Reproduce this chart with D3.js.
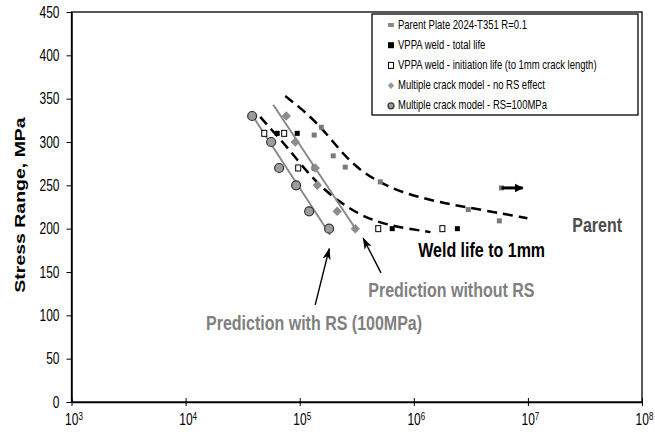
<!DOCTYPE html>
<html>
<head>
<meta charset="utf-8">
<script src="https://cdn.jsdelivr.net/npm/d3@7"></script>
<style>
body { margin: 0; background: #fff; }
svg { display: block; }
text { font-family: Arial, "Liberation Sans", sans-serif; }
</style>
</head>
<body>
<svg width="655" height="434"></svg>
<script>
// Data (cycles N, stress range MPa)
var parentN = [134000, 154600, 196600, 250600, 508000, 3.0e6, 5.62e6];
var parentS = [308, 317, 284, 271, 254, 222, 209];
var runoutN = [5.86e6, 9.0e6];
var runoutS = [247, 247];

var totalN = [63500, 95100, 134000, 647000, 2.41e6];
var totalS = [310, 310, 270, 200, 200];

var initN = [48900, 73100, 97000, 488000, 1.78e6];
var initS = [310, 310, 270, 200, 200];

var noRsN = [76200, 91400, 136800, 142600, 213000, 307000];
var noRsS = [330, 300, 270, 250, 220, 200];
var noRsLineN = [58600, 319000];
var noRsLineS = [343, 197];

var rsN = [38300, 56200, 66000, 93000, 121000, 181000];
var rsS = [330, 300, 270, 250, 220, 200];
var rsLineN = [38300, 185000];
var rsLineS = [331, 193];

var parentCurveN = [74700, 107000, 157000, 226000, 313000, 459000, 762000, 1.71e6, 3.83e6, 9.9e6];
var parentCurveS = [353, 337, 316, 290, 271, 256, 242, 230, 222, 212];

var weldCurveN = [45100, 58600, 77700, 107000, 154000, 218000, 326000, 459000, 647000, 1.40e6];
var weldCurveS = [329, 312, 294, 271, 248, 232, 217, 209, 203, 196];

var yTicks = [0, 50, 100, 150, 200, 250, 300, 350, 400, 450];
var xTicks = [1e3, 1e4, 1e5, 1e6, 1e7, 1e8];

var legendLabels = [
    "Parent Plate 2024-T351 R=0.1",
    "VPPA weld - total life",
    "VPPA weld - initiation life (to 1mm crack length)",
    "Multiple crack model - no RS effect",
    "Multiple crack model - RS=100MPa"
];

var svg = d3.select("svg");
var K = 1.3; // glyphs in the picture are drawn taller than wide

var x = d3.scaleLog().domain([1e3, 1e8]).range([71.5, 642]);
var y = d3.scaleLinear().domain([0, 450]).range([402, 12]);

function pts(ns, ss) {
    return ns.map(function (n, i) { return [n, ss[i]]; });
}

// stretch text vertically around its own anchor
function tall(sel, k) {
    sel.each(function () {
        var t = d3.select(this);
        var tx = +t.attr("x") || 0, ty = +t.attr("y") || 0;
        t.attr("x", 0).attr("y", 0)
         .attr("transform", "translate(" + tx + "," + ty + ") scale(1," + k + ")");
    });
}

// arrow heads
var defs = svg.append("defs");
defs.append("marker").attr("id", "head").attr("markerUnits", "userSpaceOnUse")
    .attr("viewBox", "0 0 12 8").attr("refX", 11).attr("refY", 4)
    .attr("markerWidth", 12).attr("markerHeight", 8).attr("orient", "auto")
    .append("path").attr("d", "M0,0 L12,4 L0,8 L3,4 Z").attr("fill", "#000");
defs.append("marker").attr("id", "head2").attr("markerUnits", "userSpaceOnUse")
    .attr("viewBox", "0 0 10 10").attr("refX", 9).attr("refY", 5)
    .attr("markerWidth", 9).attr("markerHeight", 9).attr("orient", "auto")
    .append("path").attr("d", "M0,0 L10,5 L0,10 Z").attr("fill", "#000");

// plot frame
svg.append("rect").attr("x", 71.5).attr("y", 12).attr("width", 642 - 71.5).attr("height", 390)
    .attr("fill", "none").attr("stroke", "#000").attr("stroke-width", 1.3);

// Y axis
var yAxis = svg.append("g").attr("transform", "translate(71.5,0)")
    .call(d3.axisLeft(y).tickValues(yTicks).tickSize(5).tickSizeOuter(0).tickPadding(7));
yAxis.select(".domain").attr("stroke-width", 1.5);
yAxis.selectAll("text").attr("font-size", 12).attr("fill", "#000");
tall(yAxis.selectAll("text"), K);

// X axis
var xAxis = svg.append("g").attr("transform", "translate(0,402)")
    .call(d3.axisBottom(x).tickValues(xTicks).tickSize(4).tickSizeOuter(0).tickFormat(""));
xAxis.select(".domain").attr("stroke-width", 1.5);
xAxis.selectAll(".tick line").attr("y1", -4).attr("y2", 4);
xAxis.selectAll(".tick text").remove();
xAxis.selectAll(".tick").append("text")
    .attr("x", 2).attr("y", 23).attr("text-anchor", "middle").attr("font-size", 12).attr("fill", "#000")
    .each(function (d) {
        var t = d3.select(this);
        t.append("tspan").text("10");
        t.append("tspan").attr("dy", -4).attr("font-size", 8).text(Math.round(Math.log10(d)));
    });
tall(xAxis.selectAll(".tick text"), K);

// Y title
svg.append("text").attr("font-size", 15).attr("font-weight", "bold").attr("text-anchor", "middle")
    .attr("transform", "translate(25,205) scale(1," + K + ") rotate(-90)")
    .text("Stress Range, MPa");

var line = d3.line().x(function (d) { return x(d[0]); }).y(function (d) { return y(d[1]); });
var smooth = d3.line().x(function (d) { return x(d[0]); }).y(function (d) { return y(d[1]); })
    .curve(d3.curveBasis);

// dashed fits
svg.append("path").datum(pts(parentCurveN, parentCurveS)).attr("d", smooth)
    .attr("fill", "none").attr("stroke", "#000").attr("stroke-width", 2.5).attr("stroke-dasharray", "10,6");
svg.append("path").datum(pts(weldCurveN, weldCurveS)).attr("d", smooth)
    .attr("fill", "none").attr("stroke", "#000").attr("stroke-width", 2.5).attr("stroke-dasharray", "10,6");

// prediction lines
svg.append("path").datum(pts(noRsLineN, noRsLineS)).attr("d", line)
    .attr("fill", "none").attr("stroke", "#8a8a8a").attr("stroke-width", 2);
svg.append("path").datum(pts(rsLineN, rsLineS)).attr("d", line)
    .attr("fill", "none").attr("stroke", "#8a8a8a").attr("stroke-width", 2);

// parent plate points
svg.append("g").selectAll("rect").data(pts(parentN, parentS)).join("rect")
    .attr("x", function (d) { return x(d[0]) - 2.5; }).attr("y", function (d) { return y(d[1]) - 2.5; })
    .attr("width", 5).attr("height", 5).attr("fill", "#7a7a7a");

// runout arrow
var ro = pts(runoutN, runoutS);
svg.append("rect").attr("x", x(ro[0][0]) - 2.5).attr("y", y(ro[0][1]) - 2.5)
    .attr("width", 5).attr("height", 5).attr("fill", "#7a7a7a");
svg.append("path").datum(ro).attr("d", line).attr("stroke", "#000").attr("stroke-width", 3)
    .attr("marker-end", "url(#head2)");

// VPPA total life
svg.append("g").selectAll("rect").data(pts(totalN, totalS)).join("rect")
    .attr("x", function (d) { return x(d[0]) - 2.5; }).attr("y", function (d) { return y(d[1]) - 2.5; })
    .attr("width", 5).attr("height", 5).attr("fill", "#000");

// VPPA initiation life
svg.append("g").selectAll("rect").data(pts(initN, initS)).join("rect")
    .attr("x", function (d) { return x(d[0]) - 2.5; }).attr("y", function (d) { return y(d[1]) - 3; })
    .attr("width", 5).attr("height", 6).attr("fill", "#fff").attr("stroke", "#000").attr("stroke-width", 1);

// no RS diamonds (square turned 45 degrees)
var diamond = d3.symbol().type(d3.symbolSquare).size(45);
svg.append("g").selectAll("path").data(pts(noRsN, noRsS)).join("path")
    .attr("transform", function (d) { return "translate(" + x(d[0]) + "," + y(d[1]) + ") rotate(45)"; })
    .attr("d", diamond).attr("fill", "#8c8c8c");

// RS=100MPa circles
svg.append("g").selectAll("circle").data(pts(rsN, rsS)).join("circle")
    .attr("cx", function (d) { return x(d[0]); }).attr("cy", function (d) { return y(d[1]); })
    .attr("r", 4.5).attr("fill", "#9c9c9c").attr("stroke", "#333").attr("stroke-width", 1.2);

// annotation arrows
var arrowRs = [[136700, 112], [181600, 177]];
var arrowNoRs = [[516000, 149], [360000, 189]];
[arrowRs, arrowNoRs].forEach(function (a) {
    svg.append("path").datum(a).attr("d", line).attr("stroke", "#000").attr("stroke-width", 1.4)
        .attr("marker-end", "url(#head)");
});

// annotation texts
var notes = [
    { n: 2.45e7, s: 196.5, text: "Parent", color: "#4d4d4d" },
    { n: 1.094e6, s: 167.7, text: "Weld life to 1mm", color: "#000" },
    { n: 399000, s: 121, text: "Prediction without RS", color: "#808080" },
    { n: 15100, s: 83, text: "Prediction with RS (100MPa)", color: "#808080" }
];
var nt = svg.append("g").selectAll("text").data(notes).join("text")
    .attr("x", function (d) { return x(d.n); }).attr("y", function (d) { return y(d.s); })
    .attr("font-size", 16).attr("font-weight", "bold").attr("fill", function (d) { return d.color; })
    .text(function (d) { return d.text; });
tall(nt, 1.25);

// legend
var lg = svg.append("g");
lg.append("rect").attr("x", 372).attr("y", 14).attr("width", 266).attr("height", 101)
    .attr("fill", "#fff").attr("stroke", "#000").attr("stroke-width", 1.3);
legendLabels.forEach(function (lab, i) {
    var cy = 25 + i * 20.2, cx = 391;
    if (i === 0) lg.append("rect").attr("x", cx - 3).attr("y", cy - 2).attr("width", 6).attr("height", 4).attr("fill", "#8a8a8a");
    if (i === 1) lg.append("rect").attr("x", cx - 3).attr("y", cy - 3).attr("width", 6).attr("height", 6).attr("fill", "#000");
    if (i === 2) lg.append("rect").attr("x", cx - 2.5).attr("y", cy - 3).attr("width", 5).attr("height", 6)
        .attr("fill", "#fff").attr("stroke", "#000").attr("stroke-width", 1);
    if (i === 3) lg.append("path").attr("transform", "translate(" + cx + "," + cy + ") rotate(45)")
        .attr("d", d3.symbol().type(d3.symbolSquare).size(22)).attr("fill", "#999");
    if (i === 4) lg.append("circle").attr("cx", cx).attr("cy", cy).attr("r", 3)
        .attr("fill", "#9c9c9c").attr("stroke", "#333").attr("stroke-width", 1.2);
    lg.append("text").attr("x", 398).attr("y", cy + 3.5).attr("font-size", 9.5).attr("fill", "#000").text(lab);
});
tall(lg.selectAll("text"), K);
</script>
</body>
</html>
